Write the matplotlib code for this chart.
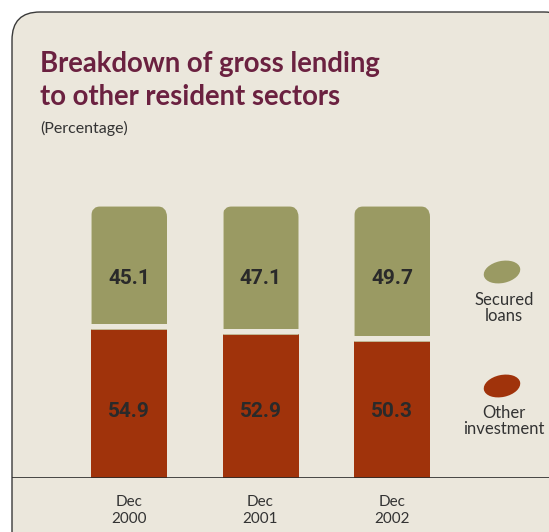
import matplotlib.pyplot as plt
import numpy as np
from matplotlib.patches import FancyBboxPatch, Ellipse

# data
periods = ['Dec\n2000', 'Dec\n2001', 'Dec\n2002']
other_investment = [54.9, 52.9, 50.3]
secured_loans = [45.1, 47.1, 49.7]

W, H = 549, 532
bg = '#ebe7dc'
green = '#9a9a63'
red = '#a0330b'
title_col = '#6b2140'
txt = '#333333'
narrow = ['Lato', 'DejaVu Sans']

fig = plt.figure(figsize=(W/100, H/100), dpi=100)
fig.patch.set_facecolor('white')

# background axes in pixel coords for the panel and free text
bgax = fig.add_axes([0, 0, 1, 1])
bgax.set_xlim(0, W); bgax.set_ylim(H, 0)
bgax.axis('off')
panel = FancyBboxPatch((12, 12), 560, 560, boxstyle='round,pad=0,rounding_size=28',
                       facecolor=bg, edgecolor='#3a3a3a', linewidth=1.0)
bgax.add_patch(panel)

bgax.text(40, 64, 'Breakdown of gross lending', color=title_col,
          fontsize=19.8, fontweight='bold', family=narrow, va='center', ha='left')
bgax.text(40, 97, 'to other resident sectors', color=title_col,
          fontsize=19.8, fontweight='bold', family=narrow, va='center', ha='left')
bgax.text(40, 128, '(Percentage)', color=txt, fontsize=11.5, family=narrow, va='center')

# legend
bgax.add_patch(Ellipse((502, 272), 37, 22, angle=-12, facecolor=green, edgecolor='none'))
bgax.add_patch(Ellipse((502, 386), 37, 22, angle=-12, facecolor=red, edgecolor='none'))
bgax.text(504, 308, 'Secured\nloans', color=txt, fontsize=12, family=narrow,
          ha='center', va='center', linespacing=1.05)
bgax.text(504, 421, 'Other\ninvestment', color=txt, fontsize=12, family=narrow,
          ha='center', va='center', linespacing=1.05)

# bar axes: baseline at 478 px, 2.72 px per percentage point, 131.5 px between bars
px_per_unit = 2.72
ytop = 110
step = 131.5
x0 = -(129 - 12) / step
x1 = x0 + (W - 12) / step
ax = fig.add_axes([12/W, (H - 478)/H, (W - 12)/W, ytop*px_per_unit/H])
ax.set_xlim(x0, x1); ax.set_ylim(0, ytop)
ax.patch.set_alpha(0)
for s in ax.spines.values():
    s.set_visible(False)

x = np.arange(len(periods))
bw = 76 / step
ax.bar(x, other_investment, width=bw, color=red, zorder=2)
gbars = ax.bar(x, secured_loans, bottom=other_investment, width=bw, color=green,
               edgecolor='#c9c6a6', linewidth=0.6, zorder=2)

# round the top corners of the secured-loans segments
rx = 11 / step
ry = 11 / px_per_unit
for b in gbars:
    clip = FancyBboxPatch((b.get_x(), b.get_y() - 20), b.get_width(), b.get_height() + 20,
                          boxstyle=f'round,pad=0,rounding_size={rx}',
                          mutation_aspect=ry/rx, transform=ax.transData,
                          facecolor='none', edgecolor='none')
    b.set_clip_path(clip)

# gap between the two segments
gap = 5 * 0.72
ax.hlines([v + 1.0 for v in other_investment], x - bw/2 - 0.01, x + bw/2 + 0.01,
          colors=bg, linewidth=gap, zorder=3)

for xi, r, g in zip(x, other_investment, secured_loans):
    ax.text(xi, 24.3, f'{r:.1f}', ha='center', va='center', fontsize=15, fontweight='bold',
            family=['Roboto', 'DejaVu Sans'], color='#2a2a2a', zorder=4)
    ax.text(xi, 73.4, f'{g:.1f}', ha='center', va='center', fontsize=15, fontweight='bold',
            family=['Roboto', 'DejaVu Sans'], color='#2a2a2a', zorder=4)

ax.axhline(0, color='#2a2a2a', linewidth=1.2, zorder=5)
ax.set_xticks(x)
ax.set_xticklabels(periods, fontsize=11, color=txt, family=narrow, linespacing=1.3)
ax.tick_params(axis='x', length=0, pad=12)
ax.set_yticks([])

fig.savefig('out.png', dpi=100, facecolor='white')
